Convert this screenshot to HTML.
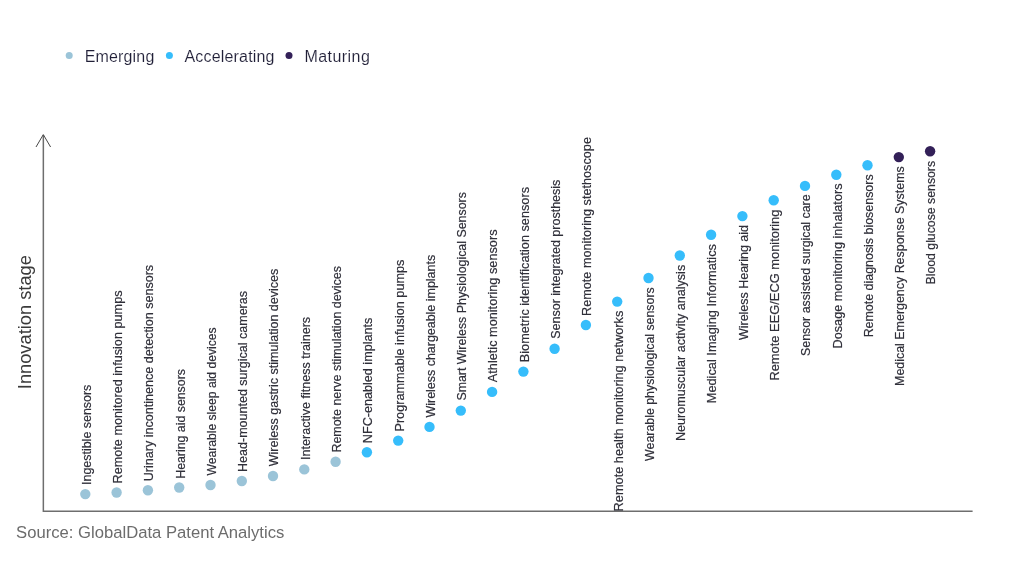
<!DOCTYPE html>
<html lang="en">
<head>
<meta charset="utf-8">
<title>Innovation stage chart</title>
<style>
html,body{margin:0;padding:0;background:#fff;}
body{width:1024px;height:576px;overflow:hidden;font-family:"Liberation Sans",sans-serif;}
svg{display:block;}
.lbl{font-family:"Liberation Sans",sans-serif;font-size:13px;fill:#30303a;stroke:#30303a;stroke-width:0.2px;}
.leg{font-family:"Liberation Sans",sans-serif;font-size:16px;fill:#201f37;stroke:#fff;stroke-width:0.12px;}
.ylab{font-family:"Liberation Sans",sans-serif;font-size:18px;fill:#3a3a3a;}
.src{font-family:"Liberation Sans",sans-serif;font-size:16.67px;fill:#6c6c6c;}
</style>
</head>
<body>
<svg width="1024" height="576" viewBox="0 0 1024 576">
<rect width="1024" height="576" fill="#ffffff"/>

<circle cx="69.2" cy="55.5" r="3.5" fill="#9bc4d8"/>
<text class="leg" x="84.7" y="62" textLength="69.6" lengthAdjust="spacing">Emerging</text>
<circle cx="169.4" cy="55.5" r="3.5" fill="#36bdfb"/>
<text class="leg" x="184.5" y="62" textLength="90" lengthAdjust="spacing">Accelerating</text>
<circle cx="289" cy="55.5" r="3.5" fill="#332058"/>
<text class="leg" x="304.4" y="62" textLength="65.4" lengthAdjust="spacing">Maturing</text>
<path d="M43.35 135 V511.15 H972.6" fill="none" stroke="#6e6e6e" stroke-width="1.5"/>
<path d="M36 147 L43.3 134.6 L50.6 147" fill="none" stroke="#484848" stroke-width="1"/>
<text class="ylab" transform="translate(31.1 389.2) rotate(-90)" textLength="134.1" lengthAdjust="spacingAndGlyphs">Innovation stage</text>
<text class="src" x="16.1" y="537.8" textLength="268.2" lengthAdjust="spacingAndGlyphs">Source: GlobalData Patent Analytics</text>
<circle cx="85.3" cy="494.1" r="5.2" fill="#9bc4d8"/>
<text class="lbl" transform="translate(90.6 484.96) rotate(-90)" textLength="100.28" lengthAdjust="spacingAndGlyphs">Ingestible sensors</text>
<circle cx="116.6" cy="492.5" r="5.2" fill="#9bc4d8"/>
<text class="lbl" transform="translate(121.9 483.47) rotate(-90)" textLength="192.99" lengthAdjust="spacingAndGlyphs">Remote monitored infusion pumps</text>
<circle cx="147.9" cy="490.3" r="5.2" fill="#9bc4d8"/>
<text class="lbl" transform="translate(153.2 481.27) rotate(-90)" textLength="216.38" lengthAdjust="spacingAndGlyphs">Urinary incontinence detection sensors</text>
<circle cx="179.2" cy="487.5" r="5.2" fill="#9bc4d8"/>
<text class="lbl" transform="translate(184.5 478.75) rotate(-90)" textLength="109.67" lengthAdjust="spacingAndGlyphs">Hearing aid sensors</text>
<circle cx="210.5" cy="485.0" r="5.2" fill="#9bc4d8"/>
<text class="lbl" transform="translate(215.8 475.60) rotate(-90)" textLength="148.23" lengthAdjust="spacingAndGlyphs">Wearable sleep aid devices</text>
<circle cx="241.8" cy="481.0" r="5.2" fill="#9bc4d8"/>
<text class="lbl" transform="translate(247.1 471.96) rotate(-90)" textLength="180.98" lengthAdjust="spacingAndGlyphs">Head-mounted surgical cameras</text>
<circle cx="273.0" cy="476.0" r="5.2" fill="#9bc4d8"/>
<text class="lbl" transform="translate(278.3 466.25) rotate(-90)" textLength="197.57" lengthAdjust="spacingAndGlyphs">Wireless gastric stimulation devices</text>
<circle cx="304.3" cy="469.4" r="5.2" fill="#9bc4d8"/>
<text class="lbl" transform="translate(309.6 459.97) rotate(-90)" textLength="143.08" lengthAdjust="spacingAndGlyphs">Interactive fitness trainers</text>
<circle cx="335.6" cy="461.8" r="5.2" fill="#9bc4d8"/>
<text class="lbl" transform="translate(340.9 452.56) rotate(-90)" textLength="186.48" lengthAdjust="spacingAndGlyphs">Remote nerve stimulation devices</text>
<circle cx="366.9" cy="452.2" r="5.2" fill="#36bdfb"/>
<text class="lbl" transform="translate(372.2 443.17) rotate(-90)" textLength="125.49" lengthAdjust="spacingAndGlyphs">NFC-enabled implants</text>
<circle cx="398.2" cy="440.6" r="5.2" fill="#36bdfb"/>
<text class="lbl" transform="translate(403.5 431.58) rotate(-90)" textLength="171.99" lengthAdjust="spacingAndGlyphs">Programmable infusion pumps</text>
<circle cx="429.5" cy="426.9" r="5.2" fill="#36bdfb"/>
<text class="lbl" transform="translate(434.8 417.50) rotate(-90)" textLength="162.62" lengthAdjust="spacingAndGlyphs">Wireless chargeable implants</text>
<circle cx="460.8" cy="410.6" r="5.2" fill="#36bdfb"/>
<text class="lbl" transform="translate(466.1 400.60) rotate(-90)" textLength="208.42" lengthAdjust="spacingAndGlyphs">Smart Wireless Physiological Sensors</text>
<circle cx="492.1" cy="391.9" r="5.2" fill="#36bdfb"/>
<text class="lbl" transform="translate(497.4 382.20) rotate(-90)" textLength="152.71" lengthAdjust="spacingAndGlyphs">Athletic monitoring sensors</text>
<circle cx="523.4" cy="371.6" r="5.2" fill="#36bdfb"/>
<text class="lbl" transform="translate(528.7 362.23) rotate(-90)" textLength="175.24" lengthAdjust="spacingAndGlyphs">Biometric identification sensors</text>
<circle cx="554.6" cy="348.8" r="5.2" fill="#36bdfb"/>
<text class="lbl" transform="translate(559.9 338.75) rotate(-90)" textLength="159.07" lengthAdjust="spacingAndGlyphs">Sensor integrated prosthesis</text>
<circle cx="585.9" cy="325.0" r="5.2" fill="#36bdfb"/>
<text class="lbl" transform="translate(591.2 315.97) rotate(-90)" textLength="178.90" lengthAdjust="spacingAndGlyphs">Remote monitoring stethoscope</text>
<circle cx="617.2" cy="301.6" r="5.2" fill="#36bdfb"/>
<text class="lbl" transform="translate(622.5 511.38) rotate(-90)" textLength="200.69" lengthAdjust="spacingAndGlyphs">Remote health monitoring networks</text>
<circle cx="648.5" cy="278.0" r="5.2" fill="#36bdfb"/>
<text class="lbl" transform="translate(653.8 460.90) rotate(-90)" textLength="173.62" lengthAdjust="spacingAndGlyphs">Wearable physiological sensors</text>
<circle cx="679.8" cy="255.5" r="5.2" fill="#36bdfb"/>
<text class="lbl" transform="translate(685.1 441.02) rotate(-90)" textLength="176.23" lengthAdjust="spacingAndGlyphs">Neuromuscular activity analysis</text>
<circle cx="711.1" cy="234.8" r="5.2" fill="#36bdfb"/>
<text class="lbl" transform="translate(716.4 403.28) rotate(-90)" textLength="159.29" lengthAdjust="spacingAndGlyphs">Medical Imaging Informatics</text>
<circle cx="742.4" cy="216.1" r="5.2" fill="#36bdfb"/>
<text class="lbl" transform="translate(747.7 340.05) rotate(-90)" textLength="115.07" lengthAdjust="spacingAndGlyphs">Wireless Hearing aid</text>
<circle cx="773.7" cy="200.3" r="5.2" fill="#36bdfb"/>
<text class="lbl" transform="translate(779.0 380.59) rotate(-90)" textLength="171.02" lengthAdjust="spacingAndGlyphs">Remote EEG/ECG monitoring</text>
<circle cx="805.0" cy="185.9" r="5.2" fill="#36bdfb"/>
<text class="lbl" transform="translate(810.3 356.00) rotate(-90)" textLength="161.62" lengthAdjust="spacingAndGlyphs">Sensor assisted surgical care</text>
<circle cx="836.3" cy="174.7" r="5.2" fill="#36bdfb"/>
<text class="lbl" transform="translate(841.6 348.48) rotate(-90)" textLength="164.99" lengthAdjust="spacingAndGlyphs">Dosage monitoring inhalators</text>
<circle cx="867.5" cy="165.2" r="5.2" fill="#36bdfb"/>
<text class="lbl" transform="translate(872.8 337.36) rotate(-90)" textLength="162.98" lengthAdjust="spacingAndGlyphs">Remote diagnosis biosensors</text>
<circle cx="898.8" cy="157.1" r="5.2" fill="#332058"/>
<text class="lbl" transform="translate(904.1 385.96) rotate(-90)" textLength="219.68" lengthAdjust="spacingAndGlyphs">Medical Emergency Response Systems</text>
<circle cx="930.1" cy="151.3" r="5.2" fill="#332058"/>
<text class="lbl" transform="translate(935.4 284.55) rotate(-90)" textLength="123.67" lengthAdjust="spacingAndGlyphs">Blood glucose sensors</text>
</svg>
</body>
</html>
